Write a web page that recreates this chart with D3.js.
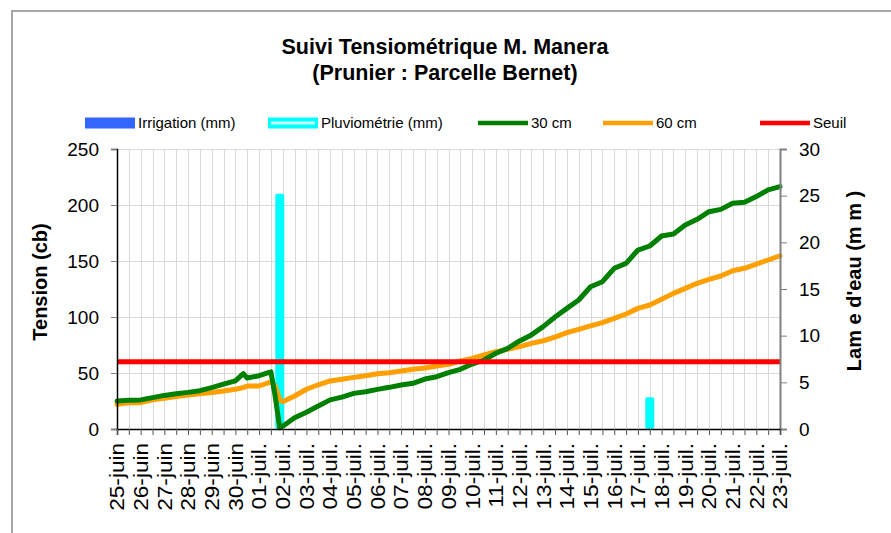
<!DOCTYPE html>
<html>
<head>
<meta charset="utf-8">
<script src="https://cdn.jsdelivr.net/npm/d3@7"></script>
<style>
    body { margin: 0; background: #fff; }
    svg text { font-family: 'Liberation Sans', Arial, sans-serif; fill: #000; }
</style>
</head>
<body>
<svg></svg>
<script>
var dates = [
    '2019-06-25 00:00', '2019-06-25 12:00', '2019-06-26 00:00', '2019-06-26 12:00',
    '2019-06-27 00:00', '2019-06-27 12:00', '2019-06-28 00:00', '2019-06-28 12:00',
    '2019-06-29 00:00', '2019-06-29 12:00', '2019-06-30 00:00', '2019-06-30 08:00',
    '2019-06-30 12:00', '2019-07-01 00:00', '2019-07-01 12:00', '2019-07-01 16:00',
    '2019-07-01 21:00', '2019-07-02 00:00', '2019-07-02 12:00', '2019-07-03 00:00',
    '2019-07-03 12:00', '2019-07-04 00:00', '2019-07-04 12:00', '2019-07-05 00:00',
    '2019-07-05 12:00', '2019-07-06 00:00', '2019-07-06 12:00', '2019-07-07 00:00',
    '2019-07-07 12:00', '2019-07-08 00:00', '2019-07-08 12:00', '2019-07-09 00:00',
    '2019-07-09 12:00', '2019-07-10 00:00', '2019-07-10 12:00', '2019-07-11 00:00',
    '2019-07-11 12:00', '2019-07-12 00:00', '2019-07-12 12:00', '2019-07-13 00:00',
    '2019-07-13 12:00', '2019-07-14 00:00', '2019-07-14 12:00', '2019-07-15 00:00',
    '2019-07-15 12:00', '2019-07-16 00:00', '2019-07-16 12:00', '2019-07-17 00:00',
    '2019-07-17 12:00', '2019-07-18 00:00', '2019-07-18 12:00', '2019-07-19 00:00',
    '2019-07-19 12:00', '2019-07-20 00:00', '2019-07-20 12:00', '2019-07-21 00:00',
    '2019-07-21 12:00', '2019-07-22 00:00', '2019-07-22 12:00', '2019-07-23 00:00'
]

var tension30 = [
    25, 25.6, 26, 28, 30, 31.5, 32.7, 34.2, 37, 40, 43, 49.5,
    45.5, 47.6, 51, 31, 1, 2.5, 10, 15, 20.5, 26, 28.5, 31.8,
    33.3, 35.4, 37.2, 39.3, 40.8, 44.6, 46.7, 50.3, 53.3, 58, 61.6, 67.6,
    72, 78.6, 84, 91.4, 100, 107.7, 115.2, 127, 131.5, 143.5, 147.9, 159.8,
    163.4, 172.3, 174.1, 182.1, 187.2, 194, 196.1, 201.5, 202.5, 207.5, 213.5, 216.4
]

var tension60 = [
    22, 23.5, 23.5, 26, 27.4, 28.9, 30.4, 31.5, 32.5, 34, 35.4, 37,
    38.4, 38.4, 42, 39, 26, 24.4, 29.5, 35.5, 39.5, 42.9, 44.4, 46.1,
    47.6, 49.4, 50.3, 51.8, 53.3, 54.5, 56.3, 57.7, 60.7, 63.1, 66.1, 69,
    71.1, 73.5, 76.5, 78.8, 82, 86, 89, 92, 94.9, 98.8, 102.7, 107.7,
    110.7, 115.8, 121.1, 125.6, 130.1, 133.6, 136.6, 141.3, 143.5, 147.3, 150.9, 154.7
]

var seuil = 60

var pluieDates = ['2019-07-01 21:00', '2019-07-17 12:00']
var pluieMm = [25.2, 3.4]

var irrigationDates = []
var irrigationMm = []

var leftTicks = [0, 50, 100, 150, 200, 250]
var rightTicks = [0, 5, 10, 15, 20, 25, 30]
var xStart = '2019-06-25 00:00'
var xEnd = '2019-07-23 00:00'

var legendItems = [
    { label: 'Irrigation (mm)', type: 'bar', color: '#3366ff' },
    { label: 'Pluviométrie (mm)', type: 'bar', color: '#00ffff' },
    { label: '30 cm', type: 'line', color: '#008000' },
    { label: '60 cm', type: 'line', color: '#ffa000' },
    { label: 'Seuil', type: 'line', color: '#ff0000' }
]
var legendX = [85, 268, 478, 603, 760]

var parse = d3.timeParse('%Y-%m-%d %H:%M')
var fr = d3.timeFormatLocale({
    dateTime: '%A %e %B %Y à %X', date: '%d/%m/%Y', time: '%H:%M:%S',
    periods: ['AM', 'PM'],
    days: ['dimanche', 'lundi', 'mardi', 'mercredi', 'jeudi', 'vendredi', 'samedi'],
    shortDays: ['dim.', 'lun.', 'mar.', 'mer.', 'jeu.', 'ven.', 'sam.'],
    months: ['janvier', 'février', 'mars', 'avril', 'mai', 'juin', 'juillet', 'août', 'septembre', 'octobre', 'novembre', 'décembre'],
    shortMonths: ['janv.', 'févr.', 'mars', 'avr.', 'mai', 'juin', 'juil.', 'août', 'sept.', 'oct.', 'nov.', 'déc.']
})
var fmt = fr.format('%d-%b')

var W = 891, H = 533
var pLeft = 117, pRight = 780, pTop = 149, pBottom = 429

var svg = d3.select('svg').attr('width', W).attr('height', H)

svg.append('path')
    .attr('d', 'M' + 12 + ',' + H + 'V' + 11 + 'H' + W)
    .attr('fill', 'none')
    .attr('stroke', '#a6a6a6')
    .attr('stroke-width', 2)

var x = d3.scaleTime().domain([parse(xStart), parse(xEnd)]).range([pLeft, pRight])
var yL = d3.scaleLinear().domain([0, 250]).range([pBottom, pTop])
var yR = d3.scaleLinear().domain([0, 30]).range([pBottom, pTop])

var halfDays = d3.timeHour.every(12).range(parse(xStart), d3.timeHour.offset(parse(xEnd), 1))

// grid
svg.append('g').selectAll('line')
    .data(halfDays)
    .enter()
    .append('line')
    .attr('x1', (d) => Math.round(x(d)) + 0.5)
    .attr('x2', (d) => Math.round(x(d)) + 0.5)
    .attr('y1', pTop)
    .attr('y2', pBottom)
    .attr('stroke', '#d9d9d9')

svg.append('g').selectAll('line')
    .data(leftTicks.slice(1))
    .enter()
    .append('line')
    .attr('x1', pLeft)
    .attr('x2', pRight)
    .attr('y1', (d) => Math.round(yL(d)) + 0.5)
    .attr('y2', (d) => Math.round(yL(d)) + 0.5)
    .attr('stroke', '#d9d9d9')

// bars
function bars(dts, vals, color) {
    svg.append('g').selectAll('rect')
        .data(vals)
        .enter()
        .append('rect')
        .attr('x', (v, i) => x(parse(dts[i])) - 4.5)
        .attr('width', 9)
        .attr('y', (v) => yR(v))
        .attr('height', (v) => pBottom - yR(v))
        .attr('rx', 2)
        .attr('fill', color)
}
bars(irrigationDates, irrigationMm, '#3366ff')
bars(pluieDates, pluieMm, '#00ffff')

// lines
function series(vals, color) {
    var line = d3.line()
        .x((v, i) => x(parse(dates[i])))
        .y((v) => yL(v))
    svg.append('path')
        .datum(vals)
        .attr('d', line)
        .attr('fill', 'none')
        .attr('stroke', color)
        .attr('stroke-width', 5)
        .attr('stroke-linejoin', 'round')
        .attr('stroke-linecap', 'round')
}
series(tension60, '#ffa000')
series(tension30, '#008000')

svg.append('line')
    .attr('x1', pLeft)
    .attr('x2', pRight)
    .attr('y1', yL(seuil))
    .attr('y2', yL(seuil))
    .attr('stroke', '#ff0000')
    .attr('stroke-width', 5)

// axes
var gL = svg.append('g')
    .attr('transform', 'translate(' + pLeft + ',0)')
    .call(d3.axisLeft(yL).tickValues(leftTicks).tickSize(6).tickPadding(12))
gL.select('.domain').attr('stroke', '#000').attr('stroke-width', 1.5)
gL.selectAll('.tick line').attr('stroke', '#808080')
gL.selectAll('text').style('font-size', '19px')

var gR = svg.append('g')
    .attr('transform', 'translate(' + pRight + ',0)')
    .call(d3.axisRight(yR).tickValues(rightTicks).tickSize(7).tickPadding(12))
gR.select('.domain').attr('stroke', '#808080').attr('stroke-width', 2)
gR.selectAll('.tick line').attr('stroke', '#808080')
gR.selectAll('text').style('font-size', '19px')

var gX = svg.append('g')
    .attr('transform', 'translate(0,' + pBottom + ')')
    .call(d3.axisBottom(x).tickValues(halfDays).tickSize(6)
        .tickFormat((d) => d.getHours() === 0 ? fmt(d) : ''))
gX.select('.domain').attr('stroke', '#000').attr('stroke-width', 1.5)
gX.selectAll('.tick line').attr('stroke', '#555')
gX.selectAll('text')
    .style('font-size', '19.5px')
    .attr('text-anchor', 'end')
    .attr('transform', 'rotate(-90) scale(1.16,1)')
    .attr('x', -12)
    .attr('y', 0)
    .attr('dy', '0.35em')

// titles
svg.append('text')
    .attr('x', 445).attr('y', 54)
    .attr('text-anchor', 'middle')
    .style('font-size', '21.5px').style('font-weight', 'bold')
    .text('Suivi Tensiométrique M. Manera')
svg.append('text')
    .attr('x', 445).attr('y', 80)
    .attr('text-anchor', 'middle')
    .style('font-size', '21.5px').style('font-weight', 'bold')
    .text('(Prunier : Parcelle Bernet)')

svg.append('text')
    .attr('transform', 'translate(47,282) rotate(-90)')
    .attr('text-anchor', 'middle')
    .style('font-size', '20px').style('font-weight', 'bold')
    .text('Tension (cb)')

svg.append('text')
    .attr('transform', 'translate(861,281) rotate(-90)')
    .attr('text-anchor', 'middle')
    .style('font-size', '20px').style('font-weight', 'bold')
    .text("Lam e d'eau (m m )")

// legend
var lg = svg.append('g').selectAll('g')
    .data(legendItems)
    .enter()
    .append('g')
    .attr('transform', (d, i) => 'translate(' + legendX[i] + ',123)')

lg.filter((d) => d.type === 'bar')
    .append('rect')
    .attr('x', 0).attr('y', -5.5).attr('width', 50).attr('height', 11)
    .attr('fill', (d) => d.color)
lg.filter((d) => d.label.indexOf('Pluvio') === 0)
    .append('rect')
    .attr('x', 3).attr('y', -1.5).attr('width', 44).attr('height', 3)
    .attr('fill', '#c8ffff')
lg.filter((d) => d.type === 'line')
    .append('line')
    .attr('x1', 0).attr('x2', 50)
    .attr('stroke', (d) => d.color)
    .attr('stroke-width', 4.5)
lg.append('text')
    .attr('x', 53)
    .attr('dy', '0.35em')
    .style('font-size', '15px')
    .text((d) => d.label)
</script>
</body>
</html>
